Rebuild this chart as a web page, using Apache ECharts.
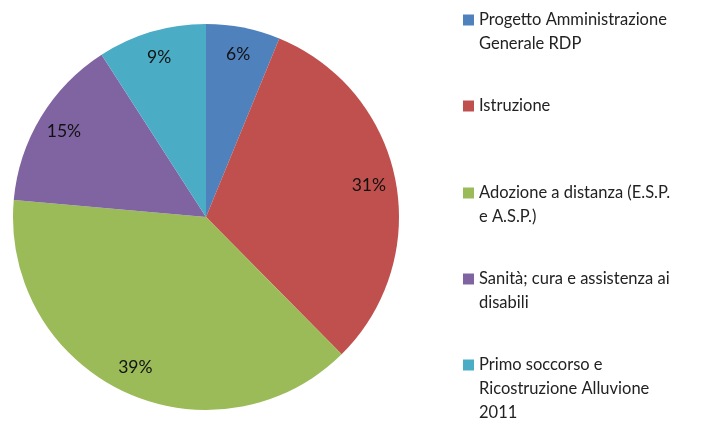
<!DOCTYPE html>
<html>
<head>
<meta charset="utf-8">
<script src="https://cdn.jsdelivr.net/npm/echarts@6/dist/echarts.min.js"></script>
<style>
  html, body { margin: 0; padding: 0; background: #fff; }
  #chart { width: 713px; height: 426px; }
</style>
</head>
<body>
<div id="chart"></div>
<script>
const categories = [
  "Progetto Amministrazione Generale RDP",
  "Istruzione",
  "Adozione a distanza (E.S.P. e A.S.P.)",
  "Sanità; cura e assistenza ai disabili",
  "Primo soccorso e Ricostruzione Alluvione 2011",
];
const legendLines = [
  ["Progetto Amministrazione", "Generale RDP"],
  ["Istruzione"],
  ["Adozione a distanza (E.S.P.", "e A.S.P.)"],
  ["Sanità; cura e assistenza ai", "disabili"],
  ["Primo soccorso e", "Ricostruzione Alluvione", "2011"],
];
const values = [6.2, 31.4, 38.8, 14.5, 9.1];
const colors = ["#4F81BD", "#C0504D", "#9BBB59", "#8064A2", "#4BACC6"];

const chart = echarts.init(document.getElementById("chart"));
const font = "Lato, 'Open Sans', sans-serif";
const lineH = 24;
const firstLineY = [20, 106, 193, 279, 365];

const data = categories.map((name, i) => ({
  name,
  value: values[i],
  itemStyle: { color: colors[i] },
}));

// legend text is centred on its icon, so pad with blank lines on top
// to keep the icon level with the first line
const legends = categories.map((name, i) => {
  const n = legendLines[i].length;
  const blockH = (2 * n - 1) * lineH;
  const pad = new Array(n - 1).fill(" ");
  return {
    data: [name],
    orient: "vertical",
    left: 463,
    top: firstLineY[i] - blockH / 2,
    padding: 0,
    icon: "rect",
    itemWidth: 11,
    itemHeight: 11,
    selectedMode: false,
    formatter: () => pad.concat(legendLines[i]).join("\n"),
    textStyle: {
      fontFamily: font,
      fontSize: 16.5,
      color: "#222",
      lineHeight: lineH,
    },
  };
});

chart.setOption({
  animation: false,
  legend: legends,
  series: [
    {
      type: "pie",
      center: [206, 217],
      radius: [0, 193],
      startAngle: 90,
      clockwise: true,
      label: { show: false },
      labelLine: { show: false },
      emphasis: { disabled: true },
      data,
    },
    {
      type: "pie",
      center: [206, 217],
      radius: [133, 193],
      startAngle: 90,
      clockwise: true,
      silent: true,
      itemStyle: { color: "transparent" },
      label: {
        show: true,
        position: "inside",
        fontFamily: font,
        fontSize: 17.5,
        color: "#111",
        formatter: (p) => Math.round(p.value) + "%",
      },
      labelLine: { show: false },
      data: categories.map((name, i) => ({ name, value: values[i], itemStyle: { color: "transparent" } })),
    },
  ],
});
</script>
</body>
</html>
